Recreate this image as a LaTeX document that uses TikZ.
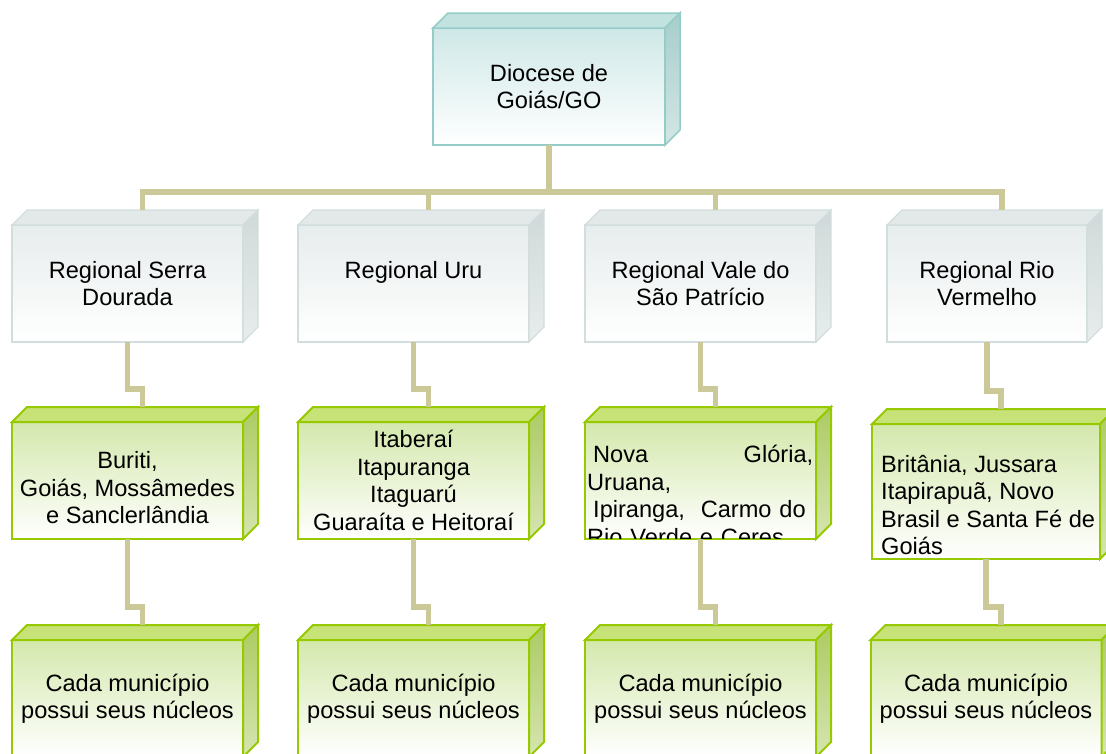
\documentclass[tikz,border=0pt]{standalone}
\usepackage{fontspec}
\setmainfont{Liberation Sans}
\usetikzlibrary{calc}

\definecolor{wire}{RGB}{203,201,151}
\definecolor{dioctop}{RGB}{194,226,224}
\definecolor{diocside}{RGB}{166,206,203}
\definecolor{diocfront}{RGB}{206,232,231}
\definecolor{diocline}{RGB}{150,204,199}
\definecolor{regtop}{RGB}{227,233,233}
\definecolor{regside}{RGB}{208,217,217}
\definecolor{regfront}{RGB}{231,236,236}
\definecolor{regline}{RGB}{210,221,221}
\definecolor{muntop}{RGB}{199,226,118}
\definecolor{munside}{RGB}{172,203,98}
\definecolor{munfront}{RGB}{212,232,172}
\definecolor{munline}{RGB}{150,201,0}

\tikzset{
  txt/.style={inner sep=0pt,font=\fontsize{23.6}{27.5}\selectfont},
  box/.style={txt,rectangle,outer sep=0pt,minimum width=231pt,minimum height=117pt,align=center,bottom color=white},
  diocedge/.style={draw=diocline,line width=1.5pt},
  regedge/.style={draw=regline,line width=1.2pt},
  munedge/.style={draw=munline,line width=2pt},
  dioc/.style={box,diocedge,top color=diocfront},
  reg/.style={box,regedge,top color=regfront},
  mun/.style={box,munedge,top color=munfront},
  wired/.style={draw=wire,line width=5.5pt}
}

\newcommand\cubeside[2]{%
  \filldraw[#2edge,fill=#2top] (#1.north west) -- ++(15,-15) -- ($(#1.north east)+(15,-15)$) -- (#1.north east) -- cycle;
  \shadedraw[#2edge,top color=#2side,bottom color=#2side!50!white] (#1.north east) -- ++(15,-15) -- ($(#1.south east)+(15,-15)$) -- (#1.south east) -- cycle;
}

\begin{document}
\begin{tikzpicture}[x=1pt,y=-1pt]
\useasboundingbox (0,0) rectangle (1106,753);
\clip (0,0) rectangle (1106,753);

\node[dioc,minimum width=232pt] (diocese) at (549,86.5) {Diocese de\\Goiás/GO};

\node[reg] (serra) at (127.5,283.5) {Regional Serra\\Dourada};
\node[reg] (uru) at (413.5,283.5) {Regional Uru\\\mbox{}};
\node[reg] (vale) at (700.5,283.5) {Regional Vale do\\São Patrício};
\node[reg,minimum width=200pt] (rio) at (987,283.5) {Regional Rio\\Vermelho};

\node[mun] (buriti) at (127.5,480.5) {\mbox{}\\[4pt]Buriti,\\Goiás, Mossâmedes\\e Sanclerlândia};
\node[mun] (itaberai) at (413.5,480.5) {Itaberaí\\Itapuranga\\Itaguarú\\Guaraíta e Heitoraí};
\node[mun] (nova) at (700.5,480.5) {};
\begin{scope}
\clip (nova.north west) rectangle ($(nova.south east)+(0,-1)$);
\node[txt,anchor=north west,text width=226pt,align=left] (novatext) at (587,445)
  {\hspace*{6pt}Nova\hfill Glória,\\Uruana,\\\hspace*{6pt}Ipiranga,\ \ Carmo do\\Rio Verde e Ceres};
\end{scope}
\node[mun,minimum width=228pt,minimum height=135pt] (britania) at (986,491.5) {};
\node[txt,anchor=north west,align=left] (britaniatext) at (881,455)
  {Britânia, Jussara\\Itapirapuã, Novo\\Brasil e Santa Fé de\\Goiás};

\node[mun] (cada1) at (127.5,698.5) {Cada município\\possui seus núcleos};
\node[mun] (cada2) at (413.5,698.5) {Cada município\\possui seus núcleos};
\node[mun] (cada3) at (700.5,698.5) {Cada município\\possui seus núcleos};
\node[mun] (cada4) at (986,698.5) {Cada município\\possui seus núcleos};

\cubeside{diocese}{dioc}
\foreach \n in {serra,uru,vale,rio} {\cubeside{\n}{reg}}
\foreach \n in {buriti,itaberai,nova,britania,cada1,cada2,cada3,cada4} {\cubeside{\n}{mun}}

\foreach \a/\b in {diocese/serra,diocese/uru,diocese/vale,diocese/rio,serra/buriti,uru/itaberai,vale/nova,rio/britania,buriti/cada1,itaberai/cada2,nova/cada3,britania/cada4}
  \draw[wired] (\a.south) |- ($(\b.north)+(15,-33)$) -- ++(0,18);
\end{tikzpicture}
\end{document}
